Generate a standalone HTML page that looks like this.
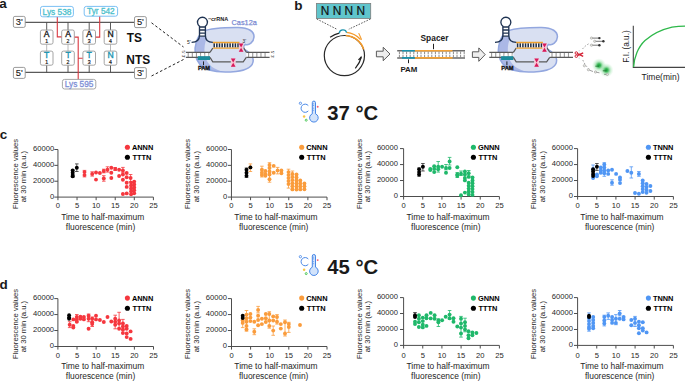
<!DOCTYPE html>
<html><head><meta charset="utf-8"><style>
html,body{margin:0;padding:0;background:#fff;}
svg{display:block;font-family:"Liberation Sans", sans-serif;}
</style></head><body>
<svg width="685" height="381" viewBox="0 0 685 381">
<rect width="685" height="381" fill="#fff"/>
<path d="M25 22.4H134.6M25 72.4H134.6" stroke="#5a5a5a" stroke-width="1.1"/>
<path d="M46.7 22.4V31M46.7 64.5V72.4M68.0 22.4V31M68.0 64.5V72.4M89.2 22.4V31M89.2 64.5V72.4M110.5 22.4V31M110.5 64.5V72.4" stroke="#4a4a4a" stroke-width="0.9"/>
<path d="M46.7 44.2V51.1M68.0 44.2V51.1M89.2 44.2V51.1M110.5 44.2V51.1" stroke="#b8b8b8" stroke-width="1"/>
<rect x="40.4" y="30" width="12.6" height="14.2" rx="1.8" fill="#fff" stroke="#9a9a9a" stroke-width="0.9"/>
<rect x="40.4" y="51.1" width="12.6" height="14.1" rx="1.8" fill="#fff" stroke="#9a9a9a" stroke-width="0.9"/>
<text x="46.7" y="37.1" text-anchor="middle" font-size="8.6" fill="#1a1a1a" stroke="#1a1a1a" stroke-width="0.35">A</text>
<text x="46.7" y="42.8" text-anchor="middle" font-size="5.2" fill="#1a1a1a" stroke="#1a1a1a" stroke-width="0.2">1</text>
<text x="46.7" y="58.2" text-anchor="middle" font-size="8.6" fill="#1a94b0" stroke="#1a94b0" stroke-width="0.35">T</text>
<text x="46.7" y="63.9" text-anchor="middle" font-size="5.2" fill="#1a1a1a" stroke="#1a1a1a" stroke-width="0.2">1</text>
<rect x="61.7" y="30" width="12.6" height="14.2" rx="1.8" fill="#fff" stroke="#9a9a9a" stroke-width="0.9"/>
<rect x="61.7" y="51.1" width="12.6" height="14.1" rx="1.8" fill="#fff" stroke="#9a9a9a" stroke-width="0.9"/>
<text x="68.0" y="37.1" text-anchor="middle" font-size="8.6" fill="#1a1a1a" stroke="#1a1a1a" stroke-width="0.35">A</text>
<text x="68.0" y="42.8" text-anchor="middle" font-size="5.2" fill="#1a1a1a" stroke="#1a1a1a" stroke-width="0.2">2</text>
<text x="68.0" y="58.2" text-anchor="middle" font-size="8.6" fill="#1a94b0" stroke="#1a94b0" stroke-width="0.35">T</text>
<text x="68.0" y="63.9" text-anchor="middle" font-size="5.2" fill="#1a1a1a" stroke="#1a1a1a" stroke-width="0.2">2</text>
<rect x="82.9" y="30" width="12.6" height="14.2" rx="1.8" fill="#fff" stroke="#9a9a9a" stroke-width="0.9"/>
<rect x="82.9" y="51.1" width="12.6" height="14.1" rx="1.8" fill="#fff" stroke="#9a9a9a" stroke-width="0.9"/>
<text x="89.2" y="37.1" text-anchor="middle" font-size="8.6" fill="#1a1a1a" stroke="#1a1a1a" stroke-width="0.35">A</text>
<text x="89.2" y="42.8" text-anchor="middle" font-size="5.2" fill="#1a1a1a" stroke="#1a1a1a" stroke-width="0.2">3</text>
<text x="89.2" y="58.2" text-anchor="middle" font-size="8.6" fill="#1a94b0" stroke="#1a94b0" stroke-width="0.35">T</text>
<text x="89.2" y="63.9" text-anchor="middle" font-size="5.2" fill="#1a1a1a" stroke="#1a1a1a" stroke-width="0.2">3</text>
<rect x="104.2" y="30" width="12.6" height="14.2" rx="1.8" fill="#fff" stroke="#9a9a9a" stroke-width="0.9"/>
<rect x="104.2" y="51.1" width="12.6" height="14.1" rx="1.8" fill="#fff" stroke="#9a9a9a" stroke-width="0.9"/>
<text x="110.5" y="37.1" text-anchor="middle" font-size="8.6" fill="#1a1a1a" stroke="#1a1a1a" stroke-width="0.35">N</text>
<text x="110.5" y="42.8" text-anchor="middle" font-size="5.2" fill="#1a1a1a" stroke="#1a1a1a" stroke-width="0.2">4</text>
<text x="110.5" y="58.2" text-anchor="middle" font-size="8.6" fill="#1a94b0" stroke="#1a94b0" stroke-width="0.35">N</text>
<text x="110.5" y="63.9" text-anchor="middle" font-size="5.2" fill="#1a1a1a" stroke="#1a1a1a" stroke-width="0.2">4</text>
<rect x="13.4" y="16.4" width="11.8" height="11" rx="1.5" fill="#fff" stroke="#8f8f8f" stroke-width="0.9"/>
<text x="19.3" y="25.1" text-anchor="middle" font-size="9.4" fill="#1a1a1a" stroke="#1a1a1a" stroke-width="0.12">3'</text>
<rect x="134.5" y="16.6" width="11.8" height="11" rx="1.5" fill="#fff" stroke="#8f8f8f" stroke-width="0.9"/>
<text x="140.4" y="25.3" text-anchor="middle" font-size="9.4" fill="#1a1a1a" stroke="#1a1a1a" stroke-width="0.12">5'</text>
<rect x="13.4" y="67.4" width="11.8" height="11" rx="1.5" fill="#fff" stroke="#8f8f8f" stroke-width="0.9"/>
<text x="19.3" y="76.1" text-anchor="middle" font-size="9.4" fill="#1a1a1a" stroke="#1a1a1a" stroke-width="0.12">5'</text>
<rect x="134.5" y="67.6" width="11.8" height="11" rx="1.5" fill="#fff" stroke="#8f8f8f" stroke-width="0.9"/>
<text x="140.4" y="76.3" text-anchor="middle" font-size="9.4" fill="#1a1a1a" stroke="#1a1a1a" stroke-width="0.12">3'</text>
<path d="M57.3 16.8V36.9H61.4M74.7 37.1H78.2V79.4M78.2 58.2H82.6M99.7 16V37.1H95.8" stroke="#d93840" stroke-width="1.1" fill="none"/>
<rect x="40.5" y="6.4" width="32.9" height="10.4" rx="2.2" fill="#fff" stroke="#6cb8f2" stroke-width="0.9"/>
<text x="57" y="14.6" text-anchor="middle" font-size="8.3" fill="#4cc0cc" stroke="#4cc0cc" stroke-width="0.3">Lys 538</text>
<rect x="84.2" y="6.4" width="33.4" height="9.8" rx="2.2" fill="#fff" stroke="#6cb8f2" stroke-width="0.9"/>
<text x="100.9" y="14.3" text-anchor="middle" font-size="8.3" fill="#4cc0cc" stroke="#4cc0cc" stroke-width="0.3">Tyr 542</text>
<rect x="62.4" y="79.4" width="33.4" height="9.6" rx="2.2" fill="#fff" stroke="#9c9c9c" stroke-width="0.9"/>
<text x="79.1" y="87.1" text-anchor="middle" font-size="8.3" fill="#7e8fd6" stroke="#7e8fd6" stroke-width="0.3">Lys 595</text>
<text x="126.8" y="42.1" font-size="11.9" font-weight="bold" fill="#111">TS</text>
<text x="126.3" y="63.5" font-size="11.9" font-weight="bold" fill="#111">NTS</text>
<path d="M151.5 22.8L183.5 47M151.5 76L183.5 59.5" stroke="#222" stroke-width="1" stroke-dasharray="2.6 2.2" fill="none"/>
<g transform="translate(0 0)">
<path d="M203 31.3C210 28.5 222 27.4 238 27.5C249 27.6 254.3 31.5 254 37C253.6 42.5 249 45.6 245.4 44.4C243.4 45.5 243 47.8 244.5 49.5C248 51.5 252.8 54 253.2 60C253.5 66.5 246 70.3 236 71.4C228 72.2 216 72 209 70C201 67.5 196.5 61 195.2 54C194.2 47 196.5 37 203 31.3Z" fill="#d9e0f2"/>
<path d="M199.6 34.5C196.6 39 194.8 46.5 195.2 54C196.5 61 201 67.5 209 70C213 71.2 218 71.7 223 71.7C214 69.5 208 65 205.6 58C204 53 204 46 205.8 40.8L205.8 33Z" fill="#abb8e6"/>
<path d="M203 31.3C210 28.5 222 27.4 238 27.5C249 27.6 254.3 31.5 254 37C253.6 42.5 249 45.6 245.4 44.4C243.4 45.5 243 47.8 244.5 49.5C248 51.5 252.8 54 253.2 60C253.5 66.5 246 70.3 236 71.4C228 72.2 216 72 209 70C201 67.5 196.5 61 195.2 54C194.2 47 196.5 37 203 31.3Z" fill="none" stroke="#93a7df" stroke-width="1.55"/>
<rect x="185.9" y="52.3" width="24.1" height="5" fill="#fff"/>
<path d="M188.2 52.3V57.3M192.32 52.3V57.3M196.44 52.3V57.3M200.56 52.3V57.3M204.68 52.3V57.3M208.8 52.3V57.3" stroke="#9a9a9a" stroke-width="1.1"/>
<path d="M185.9 52.3H210M185.9 57.4H210" stroke="#5a5a5a" stroke-width="1.2"/>
<rect x="246.3" y="52.3" width="23.3" height="5" fill="#fff"/>
<path d="M248.6 52.3V57.3M252.72 52.3V57.3M256.84 52.3V57.3M260.96 52.3V57.3M265.08 52.3V57.3" stroke="#9a9a9a" stroke-width="1.1"/>
<path d="M246.3 52.3H269.6M246.3 57.4H269.6" stroke="#5a5a5a" stroke-width="1.2"/>
<rect x="197.7" y="56.2" width="12.3" height="3.8" fill="#1b8c9d"/>
<path d="M198 55.1H210" stroke="#fff" stroke-width="0.7" stroke-dasharray="1.6 1"/>
<path d="M210 52.3L212.8 48.2M210 57.4L212.8 61.9H230.9M235.5 61.9H243.2L246.3 57.4M246.3 52.3L243.6 47.8" stroke="#5a5a5a" stroke-width="1.2" fill="none"/>
<rect x="213" y="43.2" width="26.4" height="4.2" fill="#fff"/>
<path d="M214.2 43.2V47.4M216.85 43.2V47.4M219.5 43.2V47.4M222.15 43.2V47.4M224.8 43.2V47.4M227.45 43.2V47.4M230.1 43.2V47.4M232.75 43.2V47.4M235.4 43.2V47.4M238.05 43.2V47.4" stroke="#1e2e48" stroke-width="1.55"/>
<path d="M212.5 42.5H239.5M213 48.1H239.5" stroke="#f0a22e" stroke-width="1.3"/>
<rect x="200" y="25" width="4.9" height="11.6" fill="#fff"/>
<path d="M191.6 42.3C196.5 42.2 199.5 40 199.5 35.5V26.2A4.95 4.95 0 1 1 205.4 26.2V35.5C205.4 40 208.5 42.4 212.8 42.4" fill="none" stroke="#1f3352" stroke-width="1.35"/>
<path d="M199.5 26.9H205.4M199.5 30H205.4M199.5 33.1H205.4M199.5 36.1H205.4" stroke="#1f3352" stroke-width="1.45"/>
<rect x="238.8" y="43.4" width="4.6" height="8.4" fill="#f6c6d4"/>
<path d="M238.8 43.4h4.6L241.1 47.4ZM238.8 51.8h4.6L241.1 47.8Z" fill="#d5195b"/>
<rect x="230.9" y="58.4" width="4.6" height="8.4" fill="#f6c6d4"/>
<path d="M230.9 58.4h4.6L233.2 62.4ZM230.9 66.8h4.6L233.2 62.8Z" fill="#d5195b"/>
<path d="M203.5 61.4V65" stroke="#111" stroke-width="0.9"/>
<text x="204" y="69.6" text-anchor="middle" font-size="5.7" font-weight="bold" fill="#111" stroke="#111" stroke-width="0.3">PAM</text>
<text x="211" y="20.6" font-size="5.5" font-weight="bold" fill="#1a1a1a">crRNA</text>
<path d="M208.3 18.7H211" stroke="#333" stroke-width="0.6"/>
<text x="231.6" y="25.1" font-size="7.3" fill="#7b8bd2" stroke="#7b8bd2" stroke-width="0.25">Cas12a</text>
<text x="186.9" y="43.6" font-size="5" fill="#1a1a1a">5'</text>
<text x="242.6" y="42.7" font-size="4.6" fill="#1a1a1a">3'</text>
<text transform="translate(182.3 54.2) rotate(90)" font-size="4.3" fill="#1a1a1a" text-anchor="middle">5' 3'</text>
<text transform="translate(271.2 54.5) rotate(90)" font-size="4.3" fill="#1a1a1a" text-anchor="middle">5' 3'</text>
</g>
<rect x="316.4" y="3.4" width="54.3" height="15.1" fill="#60c5cc" stroke="#7d7d7d" stroke-width="0.8"/>
<text x="342.9" y="14.7" text-anchor="middle" font-size="11.9" fill="#111" stroke="#111" stroke-width="0.2">N N N N</text>
<path d="M316.8 19L336.8 29.2M370.5 19L348.8 29.2" stroke="#333" stroke-width="0.8" stroke-dasharray="1.6 1.3"/>
<circle cx="344.4" cy="55.6" r="20.1" fill="none" stroke="#2a2a2a" stroke-width="1.2"/>
<path d="M345.8 35.5A20.1 20.1 0 0 1 363.7 49.4" fill="none" stroke="#f49a2a" stroke-width="1.6"/>
<path d="M346.6 32.4C351.5 32.9 356.5 35.2 360.6 39.4" fill="none" stroke="#f49a2a" stroke-width="1.4"/>
<path d="M361.3 40.3L358.2 33.3L359.2 33.1L362 39.2Z" fill="#f49a2a"/>
<path d="M330.1 37.3C333 35.3 336 33.8 339.3 33.2" fill="none" stroke="#222" stroke-width="1.2"/>
<path d="M339.3 33.2A3.7 3.7 0 0 1 346.6 32.7" fill="none" stroke="#1d93ad" stroke-width="1.3"/>
<path d="M355.3 68.4C358.2 65 360.4 61 361.3 57" fill="none" stroke="#222" stroke-width="1.2"/>
<path d="M361.7 55.8L358 59.4L358.8 60.2L361.2 58.8Z" fill="#222"/>
<path d="M376.4 51.2H383.2V47.3L390 54L383.2 60.7V56.8H376.4Z" fill="#eeeeee" stroke="#4a4a4a" stroke-width="0.9"/>
<path d="M472.4 51.8H478.8V47.9L485.2 54.6L478.8 61.3V57.4H472.4Z" fill="#eeeeee" stroke="#4a4a4a" stroke-width="0.9"/>
<path d="M399.4 51.6V54.3M399.4 55V57.2M403 51.6V54.3M403 55V57.2M406.6 51.6V54.3M406.6 55V57.2M410.2 51.6V54.3M410.2 55V57.2M413.8 51.6V54.3M413.8 55V57.2M417.4 51.6V54.3M417.4 55V57.2M421 51.6V54.3M421 55V57.2M424.6 51.6V54.3M424.6 55V57.2M428.2 51.6V54.3M428.2 55V57.2M431.8 51.6V54.3M431.8 55V57.2M435.4 51.6V54.3M435.4 55V57.2M439 51.6V54.3M439 55V57.2M442.6 51.6V54.3M442.6 55V57.2M446.2 51.6V54.3M446.2 55V57.2M449.8 51.6V54.3M449.8 55V57.2M453.4 51.6V54.3M453.4 55V57.2M457 51.6V54.3M457 55V57.2M460.6 51.6V54.3M460.6 55V57.2M464.2 51.6V54.3M464.2 55V57.2" stroke="#8c8c8c" stroke-width="1"/>
<path d="M397.2 50.7H465M397.2 57.9H465" stroke="#6a6a6a" stroke-width="1.5"/>
<path d="M402 50.7H414.9M402 57.9H414.9" stroke="#1b93ad" stroke-width="1.6"/>
<path d="M414.9 50.7H452.5M414.9 57.9H452.5" stroke="#f4a235" stroke-width="1.6"/>
<text x="434.5" y="41" text-anchor="middle" font-size="8.4" font-weight="bold" fill="#1a1a1a">Spacer</text>
<path d="M433.5 43.8V49.2M408.5 59.4V63.2" stroke="#222" stroke-width="1"/>
<text x="408.9" y="71.6" text-anchor="middle" font-size="7.9" font-weight="bold" fill="#1a1a1a">PAM</text>
<g transform="translate(303.4 0)">
<path d="M203 31.3C210 28.5 222 27.4 238 27.5C249 27.6 254.3 31.5 254 37C253.6 42.5 249 45.6 245.4 44.4C243.4 45.5 243 47.8 244.5 49.5C248 51.5 252.8 54 253.2 60C253.5 66.5 246 70.3 236 71.4C228 72.2 216 72 209 70C201 67.5 196.5 61 195.2 54C194.2 47 196.5 37 203 31.3Z" fill="#d9e0f2"/>
<path d="M199.6 34.5C196.6 39 194.8 46.5 195.2 54C196.5 61 201 67.5 209 70C213 71.2 218 71.7 223 71.7C214 69.5 208 65 205.6 58C204 53 204 46 205.8 40.8L205.8 33Z" fill="#abb8e6"/>
<path d="M203 31.3C210 28.5 222 27.4 238 27.5C249 27.6 254.3 31.5 254 37C253.6 42.5 249 45.6 245.4 44.4C243.4 45.5 243 47.8 244.5 49.5C248 51.5 252.8 54 253.2 60C253.5 66.5 246 70.3 236 71.4C228 72.2 216 72 209 70C201 67.5 196.5 61 195.2 54C194.2 47 196.5 37 203 31.3Z" fill="none" stroke="#93a7df" stroke-width="1.55"/>
<rect x="185.9" y="52.3" width="24.1" height="5" fill="#fff"/>
<path d="M188.2 52.3V57.3M192.32 52.3V57.3M196.44 52.3V57.3M200.56 52.3V57.3M204.68 52.3V57.3M208.8 52.3V57.3" stroke="#9a9a9a" stroke-width="1.1"/>
<path d="M185.9 52.3H210M185.9 57.4H210" stroke="#5a5a5a" stroke-width="1.2"/>
<rect x="246.3" y="52.3" width="23.3" height="5" fill="#fff"/>
<path d="M248.6 52.3V57.3M252.72 52.3V57.3M256.84 52.3V57.3M260.96 52.3V57.3M265.08 52.3V57.3" stroke="#9a9a9a" stroke-width="1.1"/>
<path d="M246.3 52.3H269.6M246.3 57.4H269.6" stroke="#5a5a5a" stroke-width="1.2"/>
<rect x="197.7" y="56.2" width="12.3" height="3.8" fill="#1b8c9d"/>
<path d="M198 55.1H210" stroke="#fff" stroke-width="0.7" stroke-dasharray="1.6 1"/>
<path d="M210 52.3L212.8 48.2M210 57.4L212.8 61.9H230.9M235.5 61.9H243.2L246.3 57.4M246.3 52.3L243.6 47.8" stroke="#5a5a5a" stroke-width="1.2" fill="none"/>
<rect x="213" y="43.2" width="26.4" height="4.2" fill="#fff"/>
<path d="M214.2 43.2V47.4M216.85 43.2V47.4M219.5 43.2V47.4M222.15 43.2V47.4M224.8 43.2V47.4M227.45 43.2V47.4M230.1 43.2V47.4M232.75 43.2V47.4M235.4 43.2V47.4M238.05 43.2V47.4" stroke="#1e2e48" stroke-width="1.55"/>
<path d="M212.5 42.5H239.5M213 48.1H239.5" stroke="#f0a22e" stroke-width="1.3"/>
<rect x="200" y="25" width="4.9" height="11.6" fill="#fff"/>
<path d="M191.6 42.3C196.5 42.2 199.5 40 199.5 35.5V26.2A4.95 4.95 0 1 1 205.4 26.2V35.5C205.4 40 208.5 42.4 212.8 42.4" fill="none" stroke="#1f3352" stroke-width="1.35"/>
<path d="M199.5 26.9H205.4M199.5 30H205.4M199.5 33.1H205.4M199.5 36.1H205.4" stroke="#1f3352" stroke-width="1.45"/>
<rect x="238.8" y="43.4" width="4.6" height="8.4" fill="#f6c6d4"/>
<path d="M238.8 43.4h4.6L241.1 47.4ZM238.8 51.8h4.6L241.1 47.8Z" fill="#d5195b"/>
<rect x="230.9" y="58.4" width="4.6" height="8.4" fill="#f6c6d4"/>
<path d="M230.9 58.4h4.6L233.2 62.4ZM230.9 66.8h4.6L233.2 62.8Z" fill="#d5195b"/>
<path d="M203.5 61.4V65" stroke="#111" stroke-width="0.9"/>
<text x="204" y="69.6" text-anchor="middle" font-size="5.7" font-weight="bold" fill="#111" stroke="#111" stroke-width="0.3">PAM</text>
</g>
<rect x="573.5" y="52.5" width="1" height="4.4" fill="#fff"/>
<path d="M579.2 50V59" stroke="#c8d0d0" stroke-width="0.8" stroke-dasharray="1.5 1"/>
<g fill="none" stroke="#d42235"><circle cx="576.3" cy="53" r="1.25" stroke-width="1"/><circle cx="576.3" cy="56.2" r="1.25" stroke-width="1"/><path d="M577.4 53.7L583.2 56.3M577.4 55.5L583.2 52.9" stroke-width="1.4"/></g>
<path d="M582.5 49C584.5 46.5 587 44.5 590 43.2M582.8 60C584 63 586 66 588.5 68.5" fill="none" stroke="#999" stroke-width="0.9" stroke-dasharray="1.6 1.6"/>
<path d="M591.5 38.1H599.4" stroke="#555" stroke-width="0.8"/>
<circle cx="591.5" cy="38.1" r="1.15" fill="#e4e4dc" stroke="#a0a0a0" stroke-width="0.6"/>
<circle cx="599.4" cy="38.1" r="1.2" fill="#333"/>
<path d="M594.7 41.3H603.4" stroke="#555" stroke-width="0.8"/>
<circle cx="594.7" cy="41.3" r="1.15" fill="#e4e4dc" stroke="#a0a0a0" stroke-width="0.6"/>
<circle cx="603.4" cy="41.3" r="1.2" fill="#333"/>
<path d="M591.5 45.2H599.4" stroke="#555" stroke-width="0.8"/>
<circle cx="591.5" cy="45.2" r="1.15" fill="#e4e4dc" stroke="#a0a0a0" stroke-width="0.6"/>
<circle cx="599.4" cy="45.2" r="1.2" fill="#333"/>
<defs><radialGradient id="gl"><stop offset="0" stop-color="#0c9a2e" stop-opacity="0.95"/><stop offset="0.22" stop-color="#18aa3a" stop-opacity="0.85"/><stop offset="0.55" stop-color="#50c86a" stop-opacity="0.35"/><stop offset="1" stop-color="#a8eab8" stop-opacity="0"/></radialGradient></defs>
<circle cx="599" cy="65.4" r="7.2" fill="url(#gl)"/>
<circle cx="606.4" cy="70.1" r="7.2" fill="url(#gl)"/>
<path d="M595.3 66.2H599M602.8 70.8H606.4" stroke="#1a6a2a" stroke-width="0.7"/>
<circle cx="584.4" cy="65.7" r="1.15" fill="#e4e4dc" stroke="#a0a0a0" stroke-width="0.6"/>
<circle cx="588.4" cy="69.7" r="1.15" fill="#e4e4dc" stroke="#a0a0a0" stroke-width="0.6"/>
<circle cx="595.5" cy="72" r="1.15" fill="#e4e4dc" stroke="#a0a0a0" stroke-width="0.6"/>
<circle cx="607.3" cy="74.4" r="1.15" fill="#e4e4dc" stroke="#a0a0a0" stroke-width="0.6"/>
<path d="M589.5 70.2L593 71.5M596.6 72.3L599.5 72.8M604 74.3L606.2 74.4" stroke="#777" stroke-width="0.7"/>
<path d="M633.3 25.7V67.4H685" stroke="#444" stroke-width="1.1" fill="none"/>
<path d="M633.6 67C634 58 638 47 645 40.5C652 34.5 662 29.5 672 27.2C677 26.4 681 26.1 686 26.1" fill="none" stroke="#2eb84a" stroke-width="1.3"/>
<text transform="translate(628.6 46.5) rotate(-90)" text-anchor="middle" font-size="8.2" fill="#1a1a1a">F.I. (a.u.)</text>
<text x="660.5" y="80.2" text-anchor="middle" font-size="8.5" fill="#1a1a1a">Time(min)</text>
<g transform="translate(296 98)">
<circle cx="4.4" cy="5.3" r="1.15" fill="none" stroke="#3f82e6" stroke-width="0.8"/>
<path d="M12.3 7.6A4.1 4.1 0 1 0 12.3 12.9" fill="none" stroke="#3f82e6" stroke-width="0.95"/>
<path d="M16.3 15.8V4.7A1.6 1.6 0 0 1 19.5 4.7V15.8A4.3 4.3 0 1 1 16.3 15.8Z" fill="#d2e3fb" stroke="#3f82e6" stroke-width="0.95"/>
<path d="M16.8 5.8h1.3M16.8 7.5h1.3M16.8 10.2h1.3M16.8 12.3h1.3" stroke="#3f82e6" stroke-width="0.6"/>
<circle cx="21.7" cy="8.7" r="0.95" fill="#f45a6e"/>
<circle cx="8.1" cy="18.4" r="1.25" fill="#f7c548"/>
<circle cx="10.2" cy="22.2" r="1.0" fill="none" stroke="#3dc34a" stroke-width="0.9"/>
</g>
<text x="327.3" y="120" font-size="20.3" font-weight="bold" fill="#1a1a1a">37 °C</text>
<g transform="translate(296 251.4)">
<circle cx="4.4" cy="5.3" r="1.15" fill="none" stroke="#3f82e6" stroke-width="0.8"/>
<path d="M12.3 7.6A4.1 4.1 0 1 0 12.3 12.9" fill="none" stroke="#3f82e6" stroke-width="0.95"/>
<path d="M16.3 15.8V4.7A1.6 1.6 0 0 1 19.5 4.7V15.8A4.3 4.3 0 1 1 16.3 15.8Z" fill="#d2e3fb" stroke="#3f82e6" stroke-width="0.95"/>
<path d="M16.8 5.8h1.3M16.8 7.5h1.3M16.8 10.2h1.3M16.8 12.3h1.3" stroke="#3f82e6" stroke-width="0.6"/>
<circle cx="21.7" cy="8.7" r="0.95" fill="#f45a6e"/>
<circle cx="8.1" cy="18.4" r="1.25" fill="#f7c548"/>
<circle cx="10.2" cy="22.2" r="1.0" fill="none" stroke="#3dc34a" stroke-width="0.9"/>
</g>
<text x="327.3" y="273.9" font-size="20.3" font-weight="bold" fill="#1a1a1a">45 °C</text>
<text x="-0.8" y="7.9" font-size="13.5" font-weight="bold" fill="#1a1a1a">a</text>
<text x="294.2" y="9.7" font-size="13.5" font-weight="bold" fill="#1a1a1a">b</text>
<text x="-0.2" y="138.6" font-size="13.5" font-weight="bold" fill="#1a1a1a">c</text>
<text x="-0.6" y="288.6" font-size="13.5" font-weight="bold" fill="#1a1a1a">d</text>
<path d="M57.95 149.5V200.2M54.35 197.1H153.4" stroke="#4d4d4d" stroke-width="1" fill="none"/>
<path d="M54.35 181.23H57.95M54.35 165.37H57.95M54.35 149.5H57.95M77.04 197.1V200.2M96.13 197.1V200.2M115.22 197.1V200.2M134.31 197.1V200.2M153.4 197.1V200.2" stroke="#4d4d4d" stroke-width="1" fill="none"/>
<text x="54.15" y="198.9" text-anchor="end" font-size="7.6" fill="#262626">0</text>
<text x="54.15" y="183.03" text-anchor="end" font-size="7.6" fill="#262626">20000</text>
<text x="54.15" y="167.17" text-anchor="end" font-size="7.6" fill="#262626">40000</text>
<text x="54.15" y="151.3" text-anchor="end" font-size="7.6" fill="#262626">60000</text>
<text x="57.95" y="208.2" text-anchor="middle" font-size="7.6" fill="#262626">0</text>
<text x="77.04" y="208.2" text-anchor="middle" font-size="7.6" fill="#262626">5</text>
<text x="96.13" y="208.2" text-anchor="middle" font-size="7.6" fill="#262626">10</text>
<text x="115.22" y="208.2" text-anchor="middle" font-size="7.6" fill="#262626">15</text>
<text x="134.31" y="208.2" text-anchor="middle" font-size="7.6" fill="#262626">20</text>
<text x="153.4" y="208.2" text-anchor="middle" font-size="7.6" fill="#262626">25</text>
<text x="102.7" y="219.8" text-anchor="middle" font-size="8.45" fill="#262626">Time to half-maximum</text>
<text x="100.5" y="229.5" text-anchor="middle" font-size="8.45" fill="#262626">fluorescence (min)</text>
<text transform="translate(17.6 174) rotate(-90)" text-anchor="middle" font-size="7.65" fill="#262626">Fluorescence values</text>
<text transform="translate(26.2 176.6) rotate(-90)" text-anchor="middle" font-size="7.65" fill="#262626">at 30 min (a.u.)</text>
<circle cx="127.4" cy="147.2" r="2.55" fill="#f5373e"/>
<circle cx="127.4" cy="157.3" r="2.55" fill="#000"/>
<text x="131.9" y="150.4" font-size="7.4" font-weight="bold" fill="#000">ANNN</text>
<text x="132.5" y="159.6" font-size="7.4" font-weight="bold" fill="#000">TTTN</text>
<path d="M84.5 170.4V176.9M82.7 170.4h3.6M82.7 176.9h3.6M92.2 171.8V176.1M90.4 171.8h3.6M90.4 176.1h3.6M103.8 169.2V172.8M102 169.2h3.6M102 172.8h3.6M103.8 175.7V181.2M102 175.7h3.6M102 181.2h3.6M107.5 166.8V172.1M105.7 166.8h3.6M105.7 172.1h3.6M122.9 167.4V172.7M121.1 167.4h3.6M121.1 172.7h3.6M130.6 174.5V181.6M128.8 174.5h3.6M128.8 181.6h3.6M115.2 167.5V170.5M113.4 167.5h3.6M113.4 170.5h3.6" stroke="#f5373e" stroke-width="0.8" fill="none"/>
<circle cx="84.5" cy="172.1" r="1.95" fill="#f5373e"/>
<circle cx="84.5" cy="175.1" r="1.95" fill="#f5373e"/>
<circle cx="92.2" cy="173.9" r="1.95" fill="#f5373e"/>
<circle cx="96" cy="172.5" r="1.95" fill="#f5373e"/>
<circle cx="96" cy="179.6" r="1.95" fill="#f5373e"/>
<circle cx="99.9" cy="173" r="1.95" fill="#f5373e"/>
<circle cx="103.8" cy="171" r="1.95" fill="#f5373e"/>
<circle cx="103.8" cy="178.4" r="1.95" fill="#f5373e"/>
<circle cx="107.5" cy="169.8" r="1.95" fill="#f5373e"/>
<circle cx="111.3" cy="167.8" r="1.95" fill="#f5373e"/>
<circle cx="111.3" cy="172.7" r="1.95" fill="#f5373e"/>
<circle cx="111.3" cy="178" r="1.95" fill="#f5373e"/>
<circle cx="115.2" cy="169" r="1.95" fill="#f5373e"/>
<circle cx="119.1" cy="169.8" r="1.95" fill="#f5373e"/>
<circle cx="119.1" cy="176" r="1.95" fill="#f5373e"/>
<circle cx="122.9" cy="170.4" r="1.95" fill="#f5373e"/>
<circle cx="122.9" cy="174.5" r="1.95" fill="#f5373e"/>
<circle cx="122.9" cy="179.8" r="1.95" fill="#f5373e"/>
<circle cx="122.9" cy="194" r="1.95" fill="#f5373e"/>
<circle cx="126.7" cy="173" r="1.95" fill="#f5373e"/>
<circle cx="126.7" cy="177.2" r="1.95" fill="#f5373e"/>
<circle cx="126.7" cy="182.8" r="1.95" fill="#f5373e"/>
<circle cx="126.7" cy="186.9" r="1.95" fill="#f5373e"/>
<circle cx="126.7" cy="193.4" r="1.95" fill="#f5373e"/>
<circle cx="130.6" cy="178" r="1.95" fill="#f5373e"/>
<circle cx="131.1" cy="182.6" r="1.95" fill="#f5373e"/>
<circle cx="131.1" cy="185.5" r="1.95" fill="#f5373e"/>
<circle cx="131.1" cy="188.4" r="1.95" fill="#f5373e"/>
<circle cx="131.1" cy="191.3" r="1.95" fill="#f5373e"/>
<circle cx="131.1" cy="194.2" r="1.95" fill="#f5373e"/>
<circle cx="134.2" cy="181.6" r="1.95" fill="#f5373e"/>
<circle cx="134.2" cy="184.5" r="1.95" fill="#f5373e"/>
<circle cx="134.2" cy="187.4" r="1.95" fill="#f5373e"/>
<circle cx="134.2" cy="190.3" r="1.95" fill="#f5373e"/>
<circle cx="134.2" cy="193.2" r="1.95" fill="#f5373e"/>
<path d="M76.8 163.9V171.5M75 163.9h3.6M75 171.5h3.6M72.7 170V177.4M70.9 170h3.6M70.9 177.4h3.6" stroke="#333" stroke-width="0.8" fill="none"/>
<circle cx="72.7" cy="170.4" r="1.95" fill="#000"/>
<circle cx="72.7" cy="172.7" r="1.95" fill="#000"/>
<circle cx="72.7" cy="175.1" r="1.95" fill="#000"/>
<circle cx="72.7" cy="176.3" r="1.95" fill="#000"/>
<circle cx="76.8" cy="167.8" r="1.95" fill="#000"/>
<path d="M231.45 149.5V200.2M227.85 197.1H327" stroke="#4d4d4d" stroke-width="1" fill="none"/>
<path d="M227.85 181.23H231.45M227.85 165.37H231.45M227.85 149.5H231.45M250.56 197.1V200.2M269.67 197.1V200.2M288.78 197.1V200.2M307.89 197.1V200.2M327 197.1V200.2" stroke="#4d4d4d" stroke-width="1" fill="none"/>
<text x="227.15" y="198.9" text-anchor="end" font-size="7.6" fill="#262626">0</text>
<text x="227.15" y="183.03" text-anchor="end" font-size="7.6" fill="#262626">20000</text>
<text x="227.15" y="167.17" text-anchor="end" font-size="7.6" fill="#262626">40000</text>
<text x="227.15" y="151.3" text-anchor="end" font-size="7.6" fill="#262626">60000</text>
<text x="231.45" y="208.2" text-anchor="middle" font-size="7.6" fill="#262626">0</text>
<text x="250.56" y="208.2" text-anchor="middle" font-size="7.6" fill="#262626">5</text>
<text x="269.67" y="208.2" text-anchor="middle" font-size="7.6" fill="#262626">10</text>
<text x="288.78" y="208.2" text-anchor="middle" font-size="7.6" fill="#262626">15</text>
<text x="307.89" y="208.2" text-anchor="middle" font-size="7.6" fill="#262626">20</text>
<text x="327" y="208.2" text-anchor="middle" font-size="7.6" fill="#262626">25</text>
<text x="275.9" y="219.8" text-anchor="middle" font-size="8.45" fill="#262626">Time to half-maximum</text>
<text x="273.7" y="229.5" text-anchor="middle" font-size="8.45" fill="#262626">fluorescence (min)</text>
<text transform="translate(190 174) rotate(-90)" text-anchor="middle" font-size="7.65" fill="#262626">Fluorescence values</text>
<text transform="translate(198.8 176.6) rotate(-90)" text-anchor="middle" font-size="7.65" fill="#262626">at 30 min (a.u.)</text>
<circle cx="301.7" cy="147.2" r="2.55" fill="#fa9c3c"/>
<circle cx="301.7" cy="157.3" r="2.55" fill="#000"/>
<text x="306.2" y="150.4" font-size="7.4" font-weight="bold" fill="#000">CNNN</text>
<text x="306.8" y="159.6" font-size="7.4" font-weight="bold" fill="#000">TTTN</text>
<path d="M250.4 163.9V171.5M248.6 163.9h3.6M248.6 171.5h3.6M261.9 166.2V177M260.1 166.2h3.6M260.1 177h3.6M269.5 162.7V182.2M267.7 162.7h3.6M267.7 182.2h3.6M277.6 167.4V173.9M275.8 167.4h3.6M275.8 173.9h3.6M288.5 169.2V188.1M286.7 169.2h3.6M286.7 188.1h3.6M292.4 171V189.3M290.6 171h3.6M290.6 189.3h3.6" stroke="#fa9c3c" stroke-width="0.8" fill="none"/>
<circle cx="250.4" cy="167.4" r="1.95" fill="#fa9c3c"/>
<circle cx="261.9" cy="169.8" r="1.95" fill="#fa9c3c"/>
<circle cx="261.9" cy="172.7" r="1.95" fill="#fa9c3c"/>
<circle cx="261.9" cy="175.1" r="1.95" fill="#fa9c3c"/>
<circle cx="265.4" cy="171" r="1.95" fill="#fa9c3c"/>
<circle cx="265.4" cy="173.9" r="1.95" fill="#fa9c3c"/>
<circle cx="265.4" cy="175.7" r="1.95" fill="#fa9c3c"/>
<circle cx="269.5" cy="165" r="1.95" fill="#fa9c3c"/>
<circle cx="269.5" cy="168" r="1.95" fill="#fa9c3c"/>
<circle cx="269.5" cy="171.5" r="1.95" fill="#fa9c3c"/>
<circle cx="269.5" cy="174.5" r="1.95" fill="#fa9c3c"/>
<circle cx="269.5" cy="179.2" r="1.95" fill="#fa9c3c"/>
<circle cx="273.7" cy="165.9" r="1.95" fill="#fa9c3c"/>
<circle cx="273.7" cy="172.7" r="1.95" fill="#fa9c3c"/>
<circle cx="277.6" cy="170.4" r="1.95" fill="#fa9c3c"/>
<circle cx="281.4" cy="170.4" r="1.95" fill="#fa9c3c"/>
<circle cx="281.4" cy="173.3" r="1.95" fill="#fa9c3c"/>
<circle cx="288.5" cy="172.1" r="1.95" fill="#fa9c3c"/>
<circle cx="288.5" cy="175.1" r="1.95" fill="#fa9c3c"/>
<circle cx="288.5" cy="178.1" r="1.95" fill="#fa9c3c"/>
<circle cx="288.5" cy="181.1" r="1.95" fill="#fa9c3c"/>
<circle cx="288.5" cy="184.1" r="1.95" fill="#fa9c3c"/>
<circle cx="292.4" cy="173.9" r="1.95" fill="#fa9c3c"/>
<circle cx="292.4" cy="177" r="1.95" fill="#fa9c3c"/>
<circle cx="292.4" cy="180.1" r="1.95" fill="#fa9c3c"/>
<circle cx="292.4" cy="183.2" r="1.95" fill="#fa9c3c"/>
<circle cx="292.4" cy="186.3" r="1.95" fill="#fa9c3c"/>
<circle cx="292.4" cy="189.4" r="1.95" fill="#fa9c3c"/>
<circle cx="296.5" cy="174.5" r="1.95" fill="#fa9c3c"/>
<circle cx="296.5" cy="177.5" r="1.95" fill="#fa9c3c"/>
<circle cx="296.5" cy="180.5" r="1.95" fill="#fa9c3c"/>
<circle cx="296.5" cy="183.5" r="1.95" fill="#fa9c3c"/>
<circle cx="296.5" cy="186.5" r="1.95" fill="#fa9c3c"/>
<circle cx="296.5" cy="189.5" r="1.95" fill="#fa9c3c"/>
<circle cx="300.3" cy="180.4" r="1.95" fill="#fa9c3c"/>
<circle cx="300.3" cy="183.4" r="1.95" fill="#fa9c3c"/>
<circle cx="300.3" cy="186.4" r="1.95" fill="#fa9c3c"/>
<circle cx="300.3" cy="189.4" r="1.95" fill="#fa9c3c"/>
<circle cx="304.4" cy="183.4" r="1.95" fill="#fa9c3c"/>
<circle cx="304.4" cy="186.35" r="1.95" fill="#fa9c3c"/>
<circle cx="304.4" cy="189.3" r="1.95" fill="#fa9c3c"/>
<path d="M246.5 168V177.5M244.7 168h3.6M244.7 177.5h3.6" stroke="#333" stroke-width="0.8" fill="none"/>
<circle cx="246.5" cy="169.8" r="1.95" fill="#000"/>
<circle cx="246.5" cy="172.7" r="1.95" fill="#000"/>
<circle cx="246.5" cy="175.7" r="1.95" fill="#000"/>
<circle cx="250.4" cy="167.4" r="1.95" fill="#000"/>
<path d="M403.6 148.6V199.6M400 196.5H499.4" stroke="#4d4d4d" stroke-width="1" fill="none"/>
<path d="M400 180.53H403.6M400 164.57H403.6M400 148.6H403.6M422.76 196.5V199.6M441.92 196.5V199.6M461.08 196.5V199.6M480.24 196.5V199.6M499.4 196.5V199.6" stroke="#4d4d4d" stroke-width="1" fill="none"/>
<text x="398" y="198.3" text-anchor="end" font-size="7.6" fill="#262626">0</text>
<text x="398" y="182.33" text-anchor="end" font-size="7.6" fill="#262626">20000</text>
<text x="398" y="166.37" text-anchor="end" font-size="7.6" fill="#262626">40000</text>
<text x="398" y="150.4" text-anchor="end" font-size="7.6" fill="#262626">60000</text>
<text x="403.6" y="208.2" text-anchor="middle" font-size="7.6" fill="#262626">0</text>
<text x="422.76" y="208.2" text-anchor="middle" font-size="7.6" fill="#262626">5</text>
<text x="441.92" y="208.2" text-anchor="middle" font-size="7.6" fill="#262626">10</text>
<text x="461.08" y="208.2" text-anchor="middle" font-size="7.6" fill="#262626">15</text>
<text x="480.24" y="208.2" text-anchor="middle" font-size="7.6" fill="#262626">20</text>
<text x="499.4" y="208.2" text-anchor="middle" font-size="7.6" fill="#262626">25</text>
<text x="448" y="219.8" text-anchor="middle" font-size="8.45" fill="#262626">Time to half-maximum</text>
<text x="445.8" y="229.5" text-anchor="middle" font-size="8.45" fill="#262626">fluorescence (min)</text>
<text transform="translate(362 174) rotate(-90)" text-anchor="middle" font-size="7.65" fill="#262626">Fluorescence values</text>
<text transform="translate(370.3 176.6) rotate(-90)" text-anchor="middle" font-size="7.65" fill="#262626">at 30 min (a.u.)</text>
<circle cx="473.4" cy="147.2" r="2.55" fill="#1fb86a"/>
<circle cx="473.4" cy="157.3" r="2.55" fill="#000"/>
<text x="477.9" y="150.4" font-size="7.4" font-weight="bold" fill="#000">GNNN</text>
<text x="478.5" y="159.6" font-size="7.4" font-weight="bold" fill="#000">TTTN</text>
<path d="M438.2 161.5V172.1M436.4 161.5h3.6M436.4 172.1h3.6M446 164.5V169.8M444.2 164.5h3.6M444.2 169.8h3.6M449.6 157.4V165M447.8 157.4h3.6M447.8 165h3.6M457.3 172.5V177.5M455.5 172.5h3.6M455.5 177.5h3.6M461 171V175.5M459.2 171h3.6M459.2 175.5h3.6M468.7 170.5V176M466.9 170.5h3.6M466.9 176h3.6" stroke="#1fb86a" stroke-width="0.8" fill="none"/>
<circle cx="430.3" cy="168.9" r="1.95" fill="#1fb86a"/>
<circle cx="430.3" cy="170.1" r="1.95" fill="#1fb86a"/>
<circle cx="434.2" cy="166.2" r="1.95" fill="#1fb86a"/>
<circle cx="434.2" cy="168.9" r="1.95" fill="#1fb86a"/>
<circle cx="434.2" cy="172.1" r="1.95" fill="#1fb86a"/>
<circle cx="438.2" cy="166.8" r="1.95" fill="#1fb86a"/>
<circle cx="438.2" cy="169.2" r="1.95" fill="#1fb86a"/>
<circle cx="442.1" cy="166.8" r="1.95" fill="#1fb86a"/>
<circle cx="446" cy="168" r="1.95" fill="#1fb86a"/>
<circle cx="446" cy="172.7" r="1.95" fill="#1fb86a"/>
<circle cx="449.6" cy="161.5" r="1.95" fill="#1fb86a"/>
<circle cx="449.6" cy="168" r="1.95" fill="#1fb86a"/>
<circle cx="457.3" cy="167.2" r="1.95" fill="#1fb86a"/>
<circle cx="457.3" cy="174.5" r="1.95" fill="#1fb86a"/>
<circle cx="457.3" cy="175.7" r="1.95" fill="#1fb86a"/>
<circle cx="461" cy="173.7" r="1.95" fill="#1fb86a"/>
<circle cx="464.9" cy="171.5" r="1.95" fill="#1fb86a"/>
<circle cx="464.9" cy="174.5" r="1.95" fill="#1fb86a"/>
<circle cx="464.9" cy="178" r="1.95" fill="#1fb86a"/>
<circle cx="464.9" cy="180.4" r="1.95" fill="#1fb86a"/>
<circle cx="464.9" cy="192.6" r="1.95" fill="#1fb86a"/>
<circle cx="468.7" cy="173.3" r="1.95" fill="#1fb86a"/>
<circle cx="468.7" cy="176.9" r="1.95" fill="#1fb86a"/>
<circle cx="461" cy="195.2" r="1.95" fill="#1fb86a"/>
<circle cx="468.7" cy="182.8" r="1.95" fill="#1fb86a"/>
<circle cx="468.7" cy="185.7" r="1.95" fill="#1fb86a"/>
<circle cx="468.7" cy="188.6" r="1.95" fill="#1fb86a"/>
<circle cx="468.7" cy="191.5" r="1.95" fill="#1fb86a"/>
<circle cx="468.7" cy="194.4" r="1.95" fill="#1fb86a"/>
<circle cx="472.5" cy="177.5" r="1.95" fill="#1fb86a"/>
<circle cx="472.5" cy="180.4" r="1.95" fill="#1fb86a"/>
<circle cx="472.5" cy="183.3" r="1.95" fill="#1fb86a"/>
<circle cx="472.5" cy="186.2" r="1.95" fill="#1fb86a"/>
<circle cx="472.5" cy="189.1" r="1.95" fill="#1fb86a"/>
<circle cx="472.5" cy="192" r="1.95" fill="#1fb86a"/>
<circle cx="472.5" cy="194.9" r="1.95" fill="#1fb86a"/>
<path d="M422.9 163.5V171M421.1 163.5h3.6M421.1 171h3.6M419.1 168V176.3M417.3 168h3.6M417.3 176.3h3.6" stroke="#333" stroke-width="0.8" fill="none"/>
<circle cx="419.1" cy="169.2" r="1.95" fill="#000"/>
<circle cx="419.1" cy="172.1" r="1.95" fill="#000"/>
<circle cx="419.1" cy="174.5" r="1.95" fill="#000"/>
<circle cx="422.9" cy="166.8" r="1.95" fill="#000"/>
<path d="M577.6 148.6V199.6M574 196.5H673.4" stroke="#4d4d4d" stroke-width="1" fill="none"/>
<path d="M574 180.53H577.6M574 164.57H577.6M574 148.6H577.6M596.76 196.5V199.6M615.92 196.5V199.6M635.08 196.5V199.6M654.24 196.5V199.6M673.4 196.5V199.6" stroke="#4d4d4d" stroke-width="1" fill="none"/>
<text x="572.9" y="198.3" text-anchor="end" font-size="7.6" fill="#262626">0</text>
<text x="572.9" y="182.33" text-anchor="end" font-size="7.6" fill="#262626">20000</text>
<text x="572.9" y="166.37" text-anchor="end" font-size="7.6" fill="#262626">40000</text>
<text x="572.9" y="150.4" text-anchor="end" font-size="7.6" fill="#262626">60000</text>
<text x="577.6" y="208.2" text-anchor="middle" font-size="7.6" fill="#262626">0</text>
<text x="596.76" y="208.2" text-anchor="middle" font-size="7.6" fill="#262626">5</text>
<text x="615.92" y="208.2" text-anchor="middle" font-size="7.6" fill="#262626">10</text>
<text x="635.08" y="208.2" text-anchor="middle" font-size="7.6" fill="#262626">15</text>
<text x="654.24" y="208.2" text-anchor="middle" font-size="7.6" fill="#262626">20</text>
<text x="673.4" y="208.2" text-anchor="middle" font-size="7.6" fill="#262626">25</text>
<text x="621.9" y="219.8" text-anchor="middle" font-size="8.45" fill="#262626">Time to half-maximum</text>
<text x="619.7" y="229.5" text-anchor="middle" font-size="8.45" fill="#262626">fluorescence (min)</text>
<text transform="translate(536 174) rotate(-90)" text-anchor="middle" font-size="7.65" fill="#262626">Fluorescence values</text>
<text transform="translate(545.3 176.6) rotate(-90)" text-anchor="middle" font-size="7.65" fill="#262626">at 30 min (a.u.)</text>
<circle cx="648.4" cy="147.2" r="2.55" fill="#5096f4"/>
<circle cx="648.4" cy="157.3" r="2.55" fill="#000"/>
<text x="652.9" y="150.4" font-size="7.4" font-weight="bold" fill="#000">TNNN</text>
<text x="653.5" y="159.6" font-size="7.4" font-weight="bold" fill="#000">TTTN</text>
<path d="M593.1 165V174.5M591.3 165h3.6M591.3 174.5h3.6M604.3 162.7V176.3M602.5 162.7h3.6M602.5 176.3h3.6M612 179.8V185.2M610.2 179.8h3.6M610.2 185.2h3.6M631.3 166.8V178M629.5 166.8h3.6M629.5 178h3.6M638.9 171.5V176.3M637.1 171.5h3.6M637.1 176.3h3.6" stroke="#5096f4" stroke-width="0.8" fill="none"/>
<circle cx="593.1" cy="169.2" r="1.95" fill="#5096f4"/>
<circle cx="593.1" cy="178" r="1.95" fill="#5096f4"/>
<circle cx="596.9" cy="174.5" r="1.95" fill="#5096f4"/>
<circle cx="596.9" cy="176.3" r="1.95" fill="#5096f4"/>
<circle cx="600.8" cy="167.4" r="1.95" fill="#5096f4"/>
<circle cx="600.8" cy="170.4" r="1.95" fill="#5096f4"/>
<circle cx="600.8" cy="172.7" r="1.95" fill="#5096f4"/>
<circle cx="604.3" cy="164.5" r="1.95" fill="#5096f4"/>
<circle cx="604.3" cy="167.4" r="1.95" fill="#5096f4"/>
<circle cx="604.3" cy="170.4" r="1.95" fill="#5096f4"/>
<circle cx="604.3" cy="173.3" r="1.95" fill="#5096f4"/>
<circle cx="608.2" cy="170.4" r="1.95" fill="#5096f4"/>
<circle cx="608.2" cy="173.9" r="1.95" fill="#5096f4"/>
<circle cx="612" cy="169.8" r="1.95" fill="#5096f4"/>
<circle cx="612" cy="182.8" r="1.95" fill="#5096f4"/>
<circle cx="616.1" cy="173.9" r="1.95" fill="#5096f4"/>
<circle cx="620" cy="177.5" r="1.95" fill="#5096f4"/>
<circle cx="620" cy="179.8" r="1.95" fill="#5096f4"/>
<circle cx="620" cy="183.1" r="1.95" fill="#5096f4"/>
<circle cx="627.4" cy="171" r="1.95" fill="#5096f4"/>
<circle cx="631.3" cy="172.7" r="1.95" fill="#5096f4"/>
<circle cx="638.9" cy="173.9" r="1.95" fill="#5096f4"/>
<circle cx="635" cy="193" r="1.95" fill="#5096f4"/>
<circle cx="638.9" cy="193.8" r="1.95" fill="#5096f4"/>
<circle cx="650.4" cy="186" r="1.95" fill="#5096f4"/>
<circle cx="650.4" cy="191" r="1.95" fill="#5096f4"/>
<circle cx="642.7" cy="180.4" r="1.95" fill="#5096f4"/>
<circle cx="642.7" cy="183.3" r="1.95" fill="#5096f4"/>
<circle cx="642.7" cy="186.2" r="1.95" fill="#5096f4"/>
<circle cx="642.7" cy="189.1" r="1.95" fill="#5096f4"/>
<circle cx="642.7" cy="192" r="1.95" fill="#5096f4"/>
<circle cx="646.5" cy="184" r="1.95" fill="#5096f4"/>
<circle cx="646.5" cy="186.9" r="1.95" fill="#5096f4"/>
<circle cx="646.5" cy="189.8" r="1.95" fill="#5096f4"/>
<circle cx="646.5" cy="192.7" r="1.95" fill="#5096f4"/>
<path d="M596.9 163.5V170.4M595.1 163.5h3.6M595.1 170.4h3.6" stroke="#333" stroke-width="0.8" fill="none"/>
<circle cx="593.1" cy="169.2" r="1.95" fill="#000"/>
<circle cx="593.1" cy="171.5" r="1.95" fill="#000"/>
<circle cx="593.1" cy="173.9" r="1.95" fill="#000"/>
<circle cx="593.1" cy="176" r="1.95" fill="#000"/>
<circle cx="596.9" cy="166.8" r="1.95" fill="#000"/>
<path d="M57.9 298.6V349.6M54.3 346.5H153.5" stroke="#4d4d4d" stroke-width="1" fill="none"/>
<path d="M54.3 330.53H57.9M54.3 314.57H57.9M54.3 298.6H57.9M77.02 346.5V349.6M96.14 346.5V349.6M115.26 346.5V349.6M134.38 346.5V349.6M153.5 346.5V349.6" stroke="#4d4d4d" stroke-width="1" fill="none"/>
<text x="54.1" y="348.3" text-anchor="end" font-size="7.6" fill="#262626">0</text>
<text x="54.1" y="332.33" text-anchor="end" font-size="7.6" fill="#262626">20000</text>
<text x="54.1" y="316.37" text-anchor="end" font-size="7.6" fill="#262626">40000</text>
<text x="54.1" y="300.4" text-anchor="end" font-size="7.6" fill="#262626">60000</text>
<text x="57.9" y="357.5" text-anchor="middle" font-size="7.6" fill="#262626">0</text>
<text x="77.02" y="357.5" text-anchor="middle" font-size="7.6" fill="#262626">5</text>
<text x="96.14" y="357.5" text-anchor="middle" font-size="7.6" fill="#262626">10</text>
<text x="115.26" y="357.5" text-anchor="middle" font-size="7.6" fill="#262626">15</text>
<text x="134.38" y="357.5" text-anchor="middle" font-size="7.6" fill="#262626">20</text>
<text x="153.5" y="357.5" text-anchor="middle" font-size="7.6" fill="#262626">25</text>
<text x="102.7" y="368.8" text-anchor="middle" font-size="8.45" fill="#262626">Time to half-maximum</text>
<text x="100.5" y="378.5" text-anchor="middle" font-size="8.45" fill="#262626">fluorescence (min)</text>
<text transform="translate(17.6 324) rotate(-90)" text-anchor="middle" font-size="7.65" fill="#262626">Fluorescence values</text>
<text transform="translate(26.2 326.6) rotate(-90)" text-anchor="middle" font-size="7.65" fill="#262626">at 30 min (a.u.)</text>
<circle cx="127.4" cy="298.1" r="2.55" fill="#f5373e"/>
<circle cx="127.4" cy="308.2" r="2.55" fill="#000"/>
<text x="131.9" y="301.3" font-size="7.4" font-weight="bold" fill="#000">ANNN</text>
<text x="132.5" y="310.5" font-size="7.4" font-weight="bold" fill="#000">TTTN</text>
<path d="M69.7 321.7V327.6M67.9 321.7h3.6M67.9 327.6h3.6M76.8 314.5V322M75 314.5h3.6M75 322h3.6M88.6 314V321.7M86.8 314h3.6M86.8 321.7h3.6M92.2 317V326.5M90.4 317h3.6M90.4 326.5h3.6M115.2 315.2V328.8M113.4 315.2h3.6M113.4 328.8h3.6M119.1 312.3V328.2M117.3 312.3h3.6M117.3 328.2h3.6M122.9 319.4V330M121.1 319.4h3.6M121.1 330h3.6" stroke="#f5373e" stroke-width="0.8" fill="none"/>
<circle cx="69.7" cy="324.7" r="1.95" fill="#f5373e"/>
<circle cx="73.3" cy="319.4" r="1.95" fill="#f5373e"/>
<circle cx="73.3" cy="325.9" r="1.95" fill="#f5373e"/>
<circle cx="73.3" cy="327.6" r="1.95" fill="#f5373e"/>
<circle cx="76.8" cy="317" r="1.95" fill="#f5373e"/>
<circle cx="76.8" cy="319.4" r="1.95" fill="#f5373e"/>
<circle cx="76.8" cy="321.7" r="1.95" fill="#f5373e"/>
<circle cx="80.4" cy="316.8" r="1.95" fill="#f5373e"/>
<circle cx="80.4" cy="318.8" r="1.95" fill="#f5373e"/>
<circle cx="83.9" cy="317" r="1.95" fill="#f5373e"/>
<circle cx="83.9" cy="319.4" r="1.95" fill="#f5373e"/>
<circle cx="88.6" cy="315.8" r="1.95" fill="#f5373e"/>
<circle cx="88.6" cy="318.8" r="1.95" fill="#f5373e"/>
<circle cx="88.6" cy="328.8" r="1.95" fill="#f5373e"/>
<circle cx="92.2" cy="318.8" r="1.95" fill="#f5373e"/>
<circle cx="92.2" cy="322.3" r="1.95" fill="#f5373e"/>
<circle cx="92.2" cy="324.1" r="1.95" fill="#f5373e"/>
<circle cx="96" cy="315.8" r="1.95" fill="#f5373e"/>
<circle cx="96" cy="319.4" r="1.95" fill="#f5373e"/>
<circle cx="99.9" cy="320" r="1.95" fill="#f5373e"/>
<circle cx="103.8" cy="322" r="1.95" fill="#f5373e"/>
<circle cx="107.5" cy="317" r="1.95" fill="#f5373e"/>
<circle cx="111.3" cy="321.5" r="1.95" fill="#f5373e"/>
<circle cx="115.2" cy="318.8" r="1.95" fill="#f5373e"/>
<circle cx="115.2" cy="321.7" r="1.95" fill="#f5373e"/>
<circle cx="115.2" cy="324.7" r="1.95" fill="#f5373e"/>
<circle cx="119.1" cy="320.5" r="1.95" fill="#f5373e"/>
<circle cx="119.1" cy="323.5" r="1.95" fill="#f5373e"/>
<circle cx="119.1" cy="328.8" r="1.95" fill="#f5373e"/>
<circle cx="122.9" cy="323.5" r="1.95" fill="#f5373e"/>
<circle cx="122.9" cy="326.5" r="1.95" fill="#f5373e"/>
<circle cx="122.9" cy="329.4" r="1.95" fill="#f5373e"/>
<circle cx="122.9" cy="333" r="1.95" fill="#f5373e"/>
<circle cx="126.7" cy="325.9" r="1.95" fill="#f5373e"/>
<circle cx="126.7" cy="328.8" r="1.95" fill="#f5373e"/>
<circle cx="126.7" cy="333.5" r="1.95" fill="#f5373e"/>
<circle cx="126.7" cy="337.1" r="1.95" fill="#f5373e"/>
<circle cx="130.6" cy="331.4" r="1.95" fill="#f5373e"/>
<circle cx="130.6" cy="338.9" r="1.95" fill="#f5373e"/>
<circle cx="69.1" cy="315.2" r="1.95" fill="#000"/>
<circle cx="69.1" cy="317.6" r="1.95" fill="#000"/>
<circle cx="69.1" cy="318.8" r="1.95" fill="#000"/>
<path d="M231.5 298.6V349.6M227.9 346.5H327" stroke="#4d4d4d" stroke-width="1" fill="none"/>
<path d="M227.9 330.53H231.5M227.9 314.57H231.5M227.9 298.6H231.5M250.6 346.5V349.6M269.7 346.5V349.6M288.8 346.5V349.6M307.9 346.5V349.6M327 346.5V349.6" stroke="#4d4d4d" stroke-width="1" fill="none"/>
<text x="226.9" y="348.3" text-anchor="end" font-size="7.6" fill="#262626">0</text>
<text x="226.9" y="332.33" text-anchor="end" font-size="7.6" fill="#262626">20000</text>
<text x="226.9" y="316.37" text-anchor="end" font-size="7.6" fill="#262626">40000</text>
<text x="226.9" y="300.4" text-anchor="end" font-size="7.6" fill="#262626">60000</text>
<text x="231.5" y="357.5" text-anchor="middle" font-size="7.6" fill="#262626">0</text>
<text x="250.6" y="357.5" text-anchor="middle" font-size="7.6" fill="#262626">5</text>
<text x="269.7" y="357.5" text-anchor="middle" font-size="7.6" fill="#262626">10</text>
<text x="288.8" y="357.5" text-anchor="middle" font-size="7.6" fill="#262626">15</text>
<text x="307.9" y="357.5" text-anchor="middle" font-size="7.6" fill="#262626">20</text>
<text x="327" y="357.5" text-anchor="middle" font-size="7.6" fill="#262626">25</text>
<text x="275.9" y="368.8" text-anchor="middle" font-size="8.45" fill="#262626">Time to half-maximum</text>
<text x="273.7" y="378.5" text-anchor="middle" font-size="8.45" fill="#262626">fluorescence (min)</text>
<text transform="translate(190 324) rotate(-90)" text-anchor="middle" font-size="7.65" fill="#262626">Fluorescence values</text>
<text transform="translate(198.8 326.6) rotate(-90)" text-anchor="middle" font-size="7.65" fill="#262626">at 30 min (a.u.)</text>
<circle cx="301.7" cy="298.1" r="2.55" fill="#fa9c3c"/>
<circle cx="301.7" cy="308.2" r="2.55" fill="#000"/>
<text x="306.2" y="301.3" font-size="7.4" font-weight="bold" fill="#000">CNNN</text>
<text x="306.8" y="310.5" font-size="7.4" font-weight="bold" fill="#000">TTTN</text>
<path d="M242.7 318.2V327.6M240.9 318.2h3.6M240.9 327.6h3.6M246.5 310.5V331.2M244.7 310.5h3.6M244.7 331.2h3.6M254.3 328.8V334.7M252.5 328.8h3.6M252.5 334.7h3.6M258.1 306.4V312.9M256.3 306.4h3.6M256.3 312.9h3.6M269.3 311.7V328.2M267.5 311.7h3.6M267.5 328.2h3.6M273.2 326V335.3M271.4 326h3.6M271.4 335.3h3.6M277 314.6V324.1M275.2 314.6h3.6M275.2 324.1h3.6M285 320V336M283.2 320h3.6M283.2 336h3.6M288.8 322.3V332.4M287 322.3h3.6M287 332.4h3.6" stroke="#fa9c3c" stroke-width="0.8" fill="none"/>
<circle cx="242.7" cy="320.5" r="1.95" fill="#fa9c3c"/>
<circle cx="242.7" cy="322.9" r="1.95" fill="#fa9c3c"/>
<circle cx="246.5" cy="314.6" r="1.95" fill="#fa9c3c"/>
<circle cx="246.5" cy="318.2" r="1.95" fill="#fa9c3c"/>
<circle cx="246.5" cy="321.7" r="1.95" fill="#fa9c3c"/>
<circle cx="246.5" cy="325.9" r="1.95" fill="#fa9c3c"/>
<circle cx="246.5" cy="329.4" r="1.95" fill="#fa9c3c"/>
<circle cx="250.4" cy="314" r="1.95" fill="#fa9c3c"/>
<circle cx="250.4" cy="317.6" r="1.95" fill="#fa9c3c"/>
<circle cx="250.4" cy="321.1" r="1.95" fill="#fa9c3c"/>
<circle cx="254.3" cy="321.7" r="1.95" fill="#fa9c3c"/>
<circle cx="254.3" cy="331.8" r="1.95" fill="#fa9c3c"/>
<circle cx="258.1" cy="309.9" r="1.95" fill="#fa9c3c"/>
<circle cx="258.1" cy="315.8" r="1.95" fill="#fa9c3c"/>
<circle cx="258.1" cy="320" r="1.95" fill="#fa9c3c"/>
<circle cx="258.1" cy="325.3" r="1.95" fill="#fa9c3c"/>
<circle cx="261.9" cy="318.8" r="1.95" fill="#fa9c3c"/>
<circle cx="261.9" cy="324.1" r="1.95" fill="#fa9c3c"/>
<circle cx="265.8" cy="314" r="1.95" fill="#fa9c3c"/>
<circle cx="265.8" cy="318.2" r="1.95" fill="#fa9c3c"/>
<circle cx="265.8" cy="322" r="1.95" fill="#fa9c3c"/>
<circle cx="269.3" cy="314" r="1.95" fill="#fa9c3c"/>
<circle cx="269.3" cy="320.5" r="1.95" fill="#fa9c3c"/>
<circle cx="269.3" cy="325.9" r="1.95" fill="#fa9c3c"/>
<circle cx="273.2" cy="316.4" r="1.95" fill="#fa9c3c"/>
<circle cx="273.2" cy="320.5" r="1.95" fill="#fa9c3c"/>
<circle cx="273.2" cy="330.6" r="1.95" fill="#fa9c3c"/>
<circle cx="277" cy="317" r="1.95" fill="#fa9c3c"/>
<circle cx="277" cy="321.7" r="1.95" fill="#fa9c3c"/>
<circle cx="280.8" cy="324.1" r="1.95" fill="#fa9c3c"/>
<circle cx="280.8" cy="328.6" r="1.95" fill="#fa9c3c"/>
<circle cx="285" cy="322.3" r="1.95" fill="#fa9c3c"/>
<circle cx="285" cy="333.5" r="1.95" fill="#fa9c3c"/>
<circle cx="288.8" cy="324.1" r="1.95" fill="#fa9c3c"/>
<circle cx="288.8" cy="327" r="1.95" fill="#fa9c3c"/>
<circle cx="300" cy="325" r="1.95" fill="#fa9c3c"/>
<circle cx="242.7" cy="315.8" r="1.95" fill="#000"/>
<circle cx="242.7" cy="318" r="1.95" fill="#000"/>
<path d="M403.6 297.6V348.5M400 345.4H499.4" stroke="#4d4d4d" stroke-width="1" fill="none"/>
<path d="M400 329.47H403.6M400 313.53H403.6M400 297.6H403.6M422.76 345.4V348.5M441.92 345.4V348.5M461.08 345.4V348.5M480.24 345.4V348.5M499.4 345.4V348.5" stroke="#4d4d4d" stroke-width="1" fill="none"/>
<text x="398" y="347.2" text-anchor="end" font-size="7.6" fill="#262626">0</text>
<text x="398" y="331.27" text-anchor="end" font-size="7.6" fill="#262626">20000</text>
<text x="398" y="315.33" text-anchor="end" font-size="7.6" fill="#262626">40000</text>
<text x="398" y="299.4" text-anchor="end" font-size="7.6" fill="#262626">60000</text>
<text x="403.6" y="357.5" text-anchor="middle" font-size="7.6" fill="#262626">0</text>
<text x="422.76" y="357.5" text-anchor="middle" font-size="7.6" fill="#262626">5</text>
<text x="441.92" y="357.5" text-anchor="middle" font-size="7.6" fill="#262626">10</text>
<text x="461.08" y="357.5" text-anchor="middle" font-size="7.6" fill="#262626">15</text>
<text x="480.24" y="357.5" text-anchor="middle" font-size="7.6" fill="#262626">20</text>
<text x="499.4" y="357.5" text-anchor="middle" font-size="7.6" fill="#262626">25</text>
<text x="448" y="368.8" text-anchor="middle" font-size="8.45" fill="#262626">Time to half-maximum</text>
<text x="445.8" y="378.5" text-anchor="middle" font-size="8.45" fill="#262626">fluorescence (min)</text>
<text transform="translate(362 324) rotate(-90)" text-anchor="middle" font-size="7.65" fill="#262626">Fluorescence values</text>
<text transform="translate(370.3 326.6) rotate(-90)" text-anchor="middle" font-size="7.65" fill="#262626">at 30 min (a.u.)</text>
<circle cx="473.4" cy="298.1" r="2.55" fill="#1fb86a"/>
<circle cx="473.4" cy="308.2" r="2.55" fill="#000"/>
<text x="477.9" y="301.3" font-size="7.4" font-weight="bold" fill="#000">GNNN</text>
<text x="478.5" y="310.5" font-size="7.4" font-weight="bold" fill="#000">TTTN</text>
<path d="M438.4 318.8V326.5M436.6 318.8h3.6M436.6 326.5h3.6M449.6 310.5V319.4M447.8 310.5h3.6M447.8 319.4h3.6M461 316.4V337.1M459.2 316.4h3.6M459.2 337.1h3.6M465 318.2V331.8M463.2 318.2h3.6M463.2 331.8h3.6" stroke="#1fb86a" stroke-width="0.8" fill="none"/>
<circle cx="415" cy="321.7" r="1.95" fill="#1fb86a"/>
<circle cx="415" cy="324.1" r="1.95" fill="#1fb86a"/>
<circle cx="418.9" cy="315.2" r="1.95" fill="#1fb86a"/>
<circle cx="418.9" cy="318.8" r="1.95" fill="#1fb86a"/>
<circle cx="418.9" cy="322.3" r="1.95" fill="#1fb86a"/>
<circle cx="418.9" cy="327" r="1.95" fill="#1fb86a"/>
<circle cx="422.8" cy="317.6" r="1.95" fill="#1fb86a"/>
<circle cx="422.8" cy="321.1" r="1.95" fill="#1fb86a"/>
<circle cx="422.8" cy="324.7" r="1.95" fill="#1fb86a"/>
<circle cx="422.8" cy="327.4" r="1.95" fill="#1fb86a"/>
<circle cx="426.5" cy="315.2" r="1.95" fill="#1fb86a"/>
<circle cx="426.5" cy="318.2" r="1.95" fill="#1fb86a"/>
<circle cx="426.5" cy="325.9" r="1.95" fill="#1fb86a"/>
<circle cx="430.7" cy="312.9" r="1.95" fill="#1fb86a"/>
<circle cx="430.7" cy="318.4" r="1.95" fill="#1fb86a"/>
<circle cx="434.6" cy="315.2" r="1.95" fill="#1fb86a"/>
<circle cx="434.6" cy="318.8" r="1.95" fill="#1fb86a"/>
<circle cx="438.4" cy="320.5" r="1.95" fill="#1fb86a"/>
<circle cx="438.4" cy="322.3" r="1.95" fill="#1fb86a"/>
<circle cx="442.1" cy="320.3" r="1.95" fill="#1fb86a"/>
<circle cx="445.7" cy="316.8" r="1.95" fill="#1fb86a"/>
<circle cx="449.6" cy="314.6" r="1.95" fill="#1fb86a"/>
<circle cx="449.6" cy="318.2" r="1.95" fill="#1fb86a"/>
<circle cx="453.5" cy="318.2" r="1.95" fill="#1fb86a"/>
<circle cx="453.5" cy="321.7" r="1.95" fill="#1fb86a"/>
<circle cx="457.3" cy="326.5" r="1.95" fill="#1fb86a"/>
<circle cx="461" cy="318.8" r="1.95" fill="#1fb86a"/>
<circle cx="461" cy="323.5" r="1.95" fill="#1fb86a"/>
<circle cx="461" cy="327.6" r="1.95" fill="#1fb86a"/>
<circle cx="461" cy="333.5" r="1.95" fill="#1fb86a"/>
<circle cx="465" cy="322.3" r="1.95" fill="#1fb86a"/>
<circle cx="465" cy="325.9" r="1.95" fill="#1fb86a"/>
<circle cx="465" cy="329.4" r="1.95" fill="#1fb86a"/>
<circle cx="468.5" cy="331.2" r="1.95" fill="#1fb86a"/>
<circle cx="468.5" cy="335.3" r="1.95" fill="#1fb86a"/>
<circle cx="468.5" cy="338.3" r="1.95" fill="#1fb86a"/>
<circle cx="472.4" cy="332.4" r="1.95" fill="#1fb86a"/>
<circle cx="472.4" cy="335.3" r="1.95" fill="#1fb86a"/>
<circle cx="476.4" cy="333" r="1.95" fill="#1fb86a"/>
<path d="M415 312.5V317M413.2 312.5h3.6M413.2 317h3.6" stroke="#333" stroke-width="0.8" fill="none"/>
<circle cx="415" cy="315.2" r="1.95" fill="#000"/>
<circle cx="415" cy="317" r="1.95" fill="#000"/>
<path d="M577.6 297.6V348.5M574 345.4H673.4" stroke="#4d4d4d" stroke-width="1" fill="none"/>
<path d="M574 329.47H577.6M574 313.53H577.6M574 297.6H577.6M596.76 345.4V348.5M615.92 345.4V348.5M635.08 345.4V348.5M654.24 345.4V348.5M673.4 345.4V348.5" stroke="#4d4d4d" stroke-width="1" fill="none"/>
<text x="572.9" y="347.2" text-anchor="end" font-size="7.6" fill="#262626">0</text>
<text x="572.9" y="331.27" text-anchor="end" font-size="7.6" fill="#262626">20000</text>
<text x="572.9" y="315.33" text-anchor="end" font-size="7.6" fill="#262626">40000</text>
<text x="572.9" y="299.4" text-anchor="end" font-size="7.6" fill="#262626">60000</text>
<text x="577.6" y="357.5" text-anchor="middle" font-size="7.6" fill="#262626">0</text>
<text x="596.76" y="357.5" text-anchor="middle" font-size="7.6" fill="#262626">5</text>
<text x="615.92" y="357.5" text-anchor="middle" font-size="7.6" fill="#262626">10</text>
<text x="635.08" y="357.5" text-anchor="middle" font-size="7.6" fill="#262626">15</text>
<text x="654.24" y="357.5" text-anchor="middle" font-size="7.6" fill="#262626">20</text>
<text x="673.4" y="357.5" text-anchor="middle" font-size="7.6" fill="#262626">25</text>
<text x="621.9" y="368.8" text-anchor="middle" font-size="8.45" fill="#262626">Time to half-maximum</text>
<text x="619.7" y="378.5" text-anchor="middle" font-size="8.45" fill="#262626">fluorescence (min)</text>
<text transform="translate(536 324) rotate(-90)" text-anchor="middle" font-size="7.65" fill="#262626">Fluorescence values</text>
<text transform="translate(545.3 326.6) rotate(-90)" text-anchor="middle" font-size="7.65" fill="#262626">at 30 min (a.u.)</text>
<circle cx="648.4" cy="298.1" r="2.55" fill="#5096f4"/>
<circle cx="648.4" cy="308.2" r="2.55" fill="#000"/>
<text x="652.9" y="301.3" font-size="7.4" font-weight="bold" fill="#000">TNNN</text>
<text x="653.5" y="310.5" font-size="7.4" font-weight="bold" fill="#000">TTTN</text>
<path d="M589 312.9V331.2M587.2 312.9h3.6M587.2 331.2h3.6M604.3 315.2V325.9M602.5 315.2h3.6M602.5 325.9h3.6M608.2 312.9V319.4M606.4 312.9h3.6M606.4 319.4h3.6M615.9 314.6V324.7M614.1 314.6h3.6M614.1 324.7h3.6M619.7 310.5V315.8M617.9 310.5h3.6M617.9 315.8h3.6M635 316.4V326.5M633.2 316.4h3.6M633.2 326.5h3.6" stroke="#5096f4" stroke-width="0.8" fill="none"/>
<circle cx="589" cy="318.2" r="1.95" fill="#5096f4"/>
<circle cx="589" cy="321.1" r="1.95" fill="#5096f4"/>
<circle cx="589" cy="324.1" r="1.95" fill="#5096f4"/>
<circle cx="589" cy="327" r="1.95" fill="#5096f4"/>
<circle cx="589" cy="328.8" r="1.95" fill="#5096f4"/>
<circle cx="593.2" cy="317" r="1.95" fill="#5096f4"/>
<circle cx="593.2" cy="320" r="1.95" fill="#5096f4"/>
<circle cx="593.2" cy="322.9" r="1.95" fill="#5096f4"/>
<circle cx="593.2" cy="325.9" r="1.95" fill="#5096f4"/>
<circle cx="593.2" cy="328.2" r="1.95" fill="#5096f4"/>
<circle cx="604.3" cy="317" r="1.95" fill="#5096f4"/>
<circle cx="604.3" cy="320.5" r="1.95" fill="#5096f4"/>
<circle cx="604.3" cy="323.5" r="1.95" fill="#5096f4"/>
<circle cx="608.2" cy="315.8" r="1.95" fill="#5096f4"/>
<circle cx="612.1" cy="317" r="1.95" fill="#5096f4"/>
<circle cx="612.1" cy="320" r="1.95" fill="#5096f4"/>
<circle cx="612.1" cy="322.9" r="1.95" fill="#5096f4"/>
<circle cx="615.9" cy="318.8" r="1.95" fill="#5096f4"/>
<circle cx="615.9" cy="322.9" r="1.95" fill="#5096f4"/>
<circle cx="619.7" cy="313.5" r="1.95" fill="#5096f4"/>
<circle cx="619.7" cy="318.8" r="1.95" fill="#5096f4"/>
<circle cx="623.6" cy="317" r="1.95" fill="#5096f4"/>
<circle cx="623.6" cy="319.4" r="1.95" fill="#5096f4"/>
<circle cx="631.3" cy="320" r="1.95" fill="#5096f4"/>
<circle cx="631.3" cy="325.3" r="1.95" fill="#5096f4"/>
<circle cx="635" cy="318.8" r="1.95" fill="#5096f4"/>
<circle cx="635" cy="322.9" r="1.95" fill="#5096f4"/>
<circle cx="638.9" cy="321.7" r="1.95" fill="#5096f4"/>
<circle cx="638.9" cy="325.3" r="1.95" fill="#5096f4"/>
<circle cx="638.9" cy="328.2" r="1.95" fill="#5096f4"/>
<circle cx="638.9" cy="333.3" r="1.95" fill="#5096f4"/>
<circle cx="642.8" cy="322.3" r="1.95" fill="#5096f4"/>
<circle cx="642.8" cy="328.2" r="1.95" fill="#5096f4"/>
<circle cx="642.8" cy="330.6" r="1.95" fill="#5096f4"/>
<circle cx="646.6" cy="332.4" r="1.95" fill="#5096f4"/>
<circle cx="589" cy="315.8" r="1.95" fill="#000"/>
<circle cx="589" cy="317" r="1.95" fill="#000"/>
</svg></body></html>
